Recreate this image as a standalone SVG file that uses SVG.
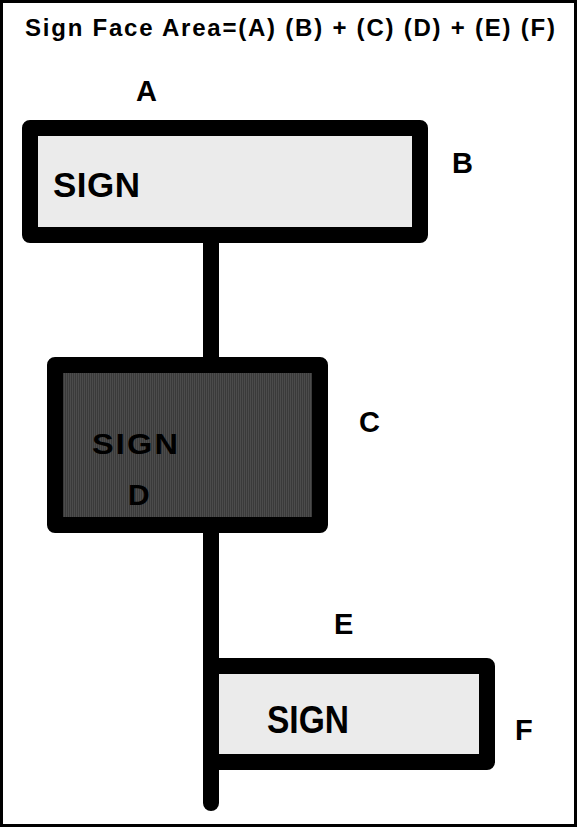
<svg xmlns="http://www.w3.org/2000/svg" width="577" height="827" viewBox="0 0 577 827">
<style>
.box{stroke:#000;stroke-width:16;stroke-linejoin:round}
.lbl{font-family:"Liberation Sans",Arial,sans-serif;font-weight:bold;fill:#000}
</style>
<defs>
<pattern id="stripes" width="2" height="4" patternUnits="userSpaceOnUse">
<rect width="2" height="4" fill="#3a3a3a"/>
<rect x="0" width="1" height="4" fill="#4c4c4c"/>
</pattern>
</defs>
<rect x="0" y="0" width="577" height="827" fill="#fff"/>
<rect x="1.5" y="1.5" width="574" height="824" fill="none" stroke="#000" stroke-width="3"/>
<text class="lbl" x="25" y="36" font-size="24" textLength="530" lengthAdjust="spacing">Sign Face Area=(A) (B) + (C) (D) + (E) (F)</text>
<g id="connectors">
<line x1="211" y1="235" x2="211" y2="803" stroke="#000" stroke-width="16" stroke-linecap="round"/>
</g>
<g id="sign1">
<rect class="box" x="30" y="128" width="390" height="107" fill="#ebebeb"/>
<text class="lbl" x="53" y="197" font-size="35" textLength="87" lengthAdjust="spacing">SIGN</text>
</g>
<g id="sign2">
<rect class="box" x="55" y="365" width="265" height="160" fill="url(#stripes)"/>
<text class="lbl" x="92" y="454" font-size="30" letter-spacing="2" textLength="88" lengthAdjust="spacingAndGlyphs">SIGN</text>
<text class="lbl" x="128" y="505" font-size="30">D</text>
</g>
<g id="sign3">
<rect class="box" x="211" y="666" width="276" height="96" fill="#ebebeb"/>
<text class="lbl" x="267" y="733" font-size="38" textLength="82" lengthAdjust="spacingAndGlyphs">SIGN</text>
</g>
<g id="labels">
<text class="lbl" x="136" y="101" font-size="29">A</text>
<text class="lbl" x="452" y="173" font-size="29">B</text>
<text class="lbl" x="359" y="432" font-size="29">C</text>
<text class="lbl" x="334" y="634" font-size="29">E</text>
<text class="lbl" x="515" y="740" font-size="29">F</text>
</g>
</svg>
